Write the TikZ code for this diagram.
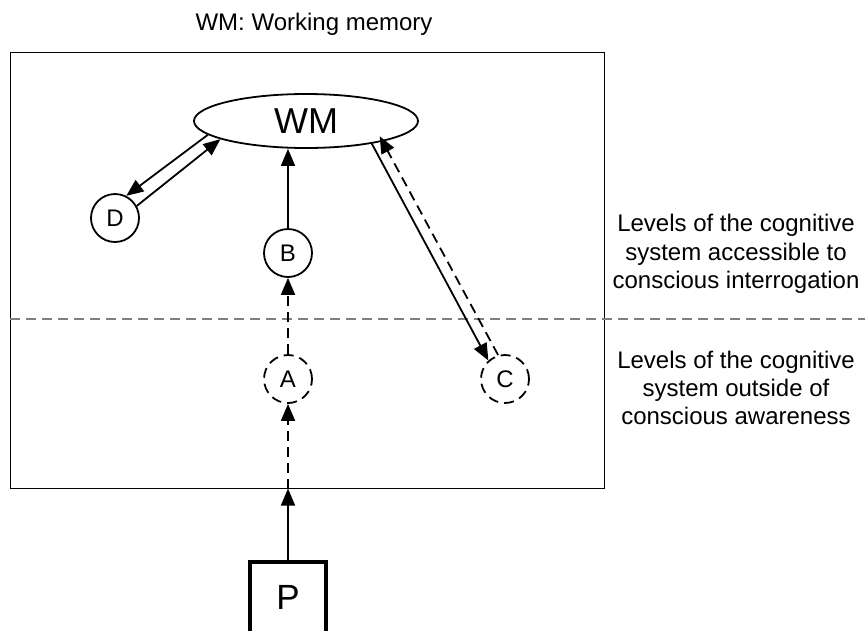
\documentclass[tikz,border=0pt]{standalone}
\usepackage{fontspec}
\setmainfont{Liberation Sans}
\usetikzlibrary{arrows.meta,shapes.geometric,calc}
\begin{document}
\begin{tikzpicture}[x=1pt,y=-1pt,
  conn/.style={line width=1.8pt,-{Triangle[length=17pt,width=14pt]}},
  dashconn/.style={conn,dash pattern=on 10pt off 6pt},
  circ/.style={circle,draw,line width=1.8pt,minimum size=48pt,inner sep=0pt,font=\fontsize{24}{24}\selectfont},
  dcirc/.style={circ,dash pattern=on 10pt off 6pt},
  lbl/.style={align=center,inner sep=0pt,font=\fontsize{24}{28.4}\selectfont}]
\useasboundingbox (0,0) rectangle (865,630);
% title
\node[font=\fontsize{24}{28}\selectfont,inner sep=0pt] (title) at (314,24) {WM: Working memory};
% frame
\node[draw,line width=1pt,minimum width=594pt,minimum height=436pt,inner sep=0pt] (frame) at (307,270) {};
% separator
\coordinate (sepL) at (10,319);
\coordinate (sepR) at (865,319);
\draw[gray,line width=1.5pt,dash pattern=on 10pt off 6pt] (sepL) -- (sepR);
% nodes
\node[ellipse,draw,line width=1.8pt,minimum width=224pt,minimum height=54pt,inner sep=0pt,font=\fontsize{36}{36}\selectfont] (wm) at (306,121) {WM};
\node[circ] (D) at (115,218) {D};
\node[circ] (B) at (288,253) {B};
\node[dcirc] (A) at (288,379) {A};
\node[dcirc] (C) at (505,379) {C};
\node[draw,line width=3.5pt,minimum width=76pt,minimum height=90pt,inner sep=0pt,text height=25pt,text depth=20pt,anchor=north,font=\fontsize{35}{35}\selectfont] (P) at (288,560) {P};
% labels
\node[lbl] (upper) at (736,254) {Levels of the cognitive\\system accessible to\\conscious interrogation};
\node[lbl] (lower) at (736,388) {Levels of the cognitive\\system outside of\\conscious awareness};
% connectors
\coordinate (pin) at (P.north |- frame.south);
\draw[conn] (P.north) -- (pin);
\draw[dashconn] (pin) -- (A.south);
\draw[dashconn] (A.north) -- (B.south);
\draw[conn] (B.north) -- (B.north |- wm.south);
\draw[conn] (wm.188) -- (D.63);
\draw[conn] (D.29) -- (wm.192);
\draw[conn] (wm.341) -- (C.132);
\draw[dashconn,shorten >=-6pt] (C.106) -- (wm.345);
\end{tikzpicture}
\end{document}
